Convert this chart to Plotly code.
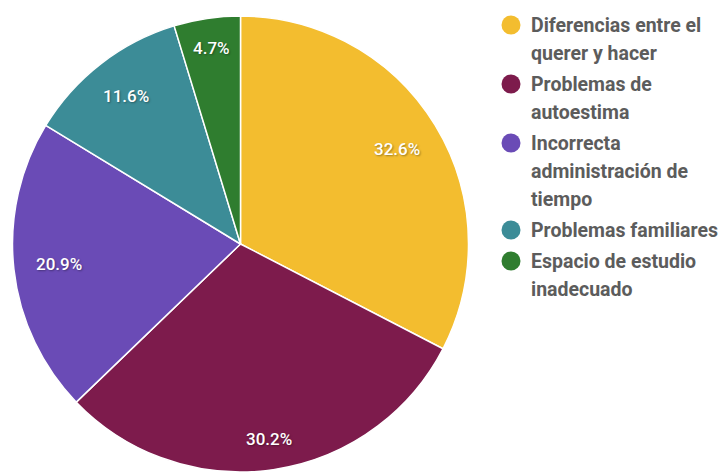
import math
import plotly.graph_objects as go

# Causes and their share (%)
categories = [
    "Diferencias entre el querer y hacer",
    "Problemas de autoestima",
    "Incorrecta administración de tiempo",
    "Problemas familiares",
    "Espacio de estudio inadecuado",
]
legend_lines = [
    ["Diferencias entre el", "querer y hacer"],
    ["Problemas de", "autoestima"],
    ["Incorrecta", "administración de", "tiempo"],
    ["Problemas familiares"],
    ["Espacio de estudio", "inadecuado"],
]
values = [32.6, 30.2, 20.9, 11.6, 4.7]
colors = ["#F3BD2F", "#7D1B4C", "#6A4BB6", "#3C8C97", "#2F7D2F"]

W, H = 725, 476
cx, cy, R = 240.5, 244, 228

fig = go.Figure(
    go.Pie(
        labels=categories,
        values=values,
        sort=False,
        direction="clockwise",
        rotation=0,
        marker=dict(colors=colors, line=dict(color="white", width=1.5)),
        textinfo="none",
        hoverinfo="label+value",
        showlegend=False,
        domain=dict(x=[(cx - R) / W, (cx + R) / W],
                    y=[1 - (cy + R) / H, 1 - (cy - R) / H]),
    )
)

annotations = []

# Percentage labels near the rim of each slice
total = sum(values)
cum = 0.0
for v in values:
    theta = 2 * math.pi * (cum + v / 2) / total
    cum += v
    txt = f"{v:.1f}%"
    hw, hh = 5.0 * len(txt), 7.0
    rr = R - 20 - (hw * abs(math.sin(theta)) + hh * abs(math.cos(theta)))
    px = cx + rr * math.sin(theta)
    py = cy - rr * math.cos(theta)
    annotations.append(dict(
        text=txt, xref="paper", yref="paper",
        x=px / W, y=1 - py / H, xanchor="center", yanchor="middle",
        showarrow=False,
        font=dict(family="Roboto", size=17, color="white", weight=500,
                  shadow="1px 1px 2px rgba(0,0,0,0.35)"),
    ))

# Custom legend: round markers with wrapped labels
shapes = []
line_h = 28
item_gap = 31
y = 25
for lines, col in zip(legend_lines, colors):
    shapes.append(dict(
        type="circle", xref="paper", yref="paper",
        xsizemode="pixel", ysizemode="pixel",
        xanchor=511 / W, yanchor=1 - y / H,
        x0=-9.5, x1=9.5, y0=-9.5, y1=9.5,
        fillcolor=col, line=dict(width=0),
    ))
    for i, txt in enumerate(lines):
        annotations.append(dict(
            text=txt, xref="paper", yref="paper",
            x=529 / W, y=1 - (y + i * line_h) / H,
            xanchor="left", yanchor="middle", showarrow=False,
            font=dict(family="Roboto", size=19.5, color="#5C5C5C", weight="bold"),
        ))
    y += (len(lines) - 1) * line_h + item_gap

fig.update_layout(
    width=W, height=H,
    margin=dict(l=0, r=0, t=0, b=0),
    paper_bgcolor="white",
    plot_bgcolor="white",
    shapes=shapes,
    annotations=annotations,
)

fig.write_html("out.html")
